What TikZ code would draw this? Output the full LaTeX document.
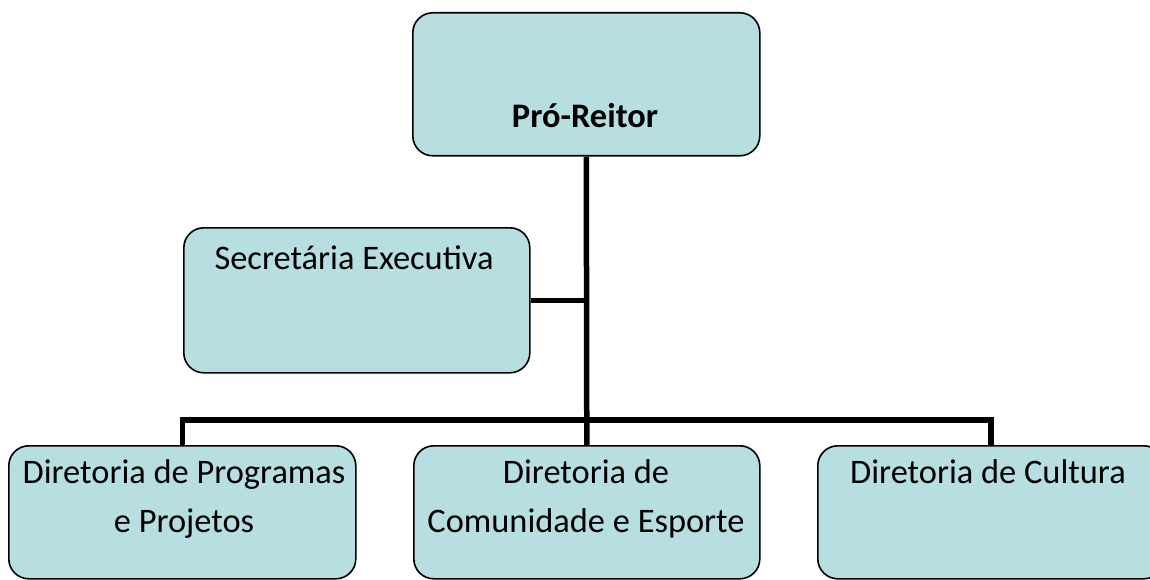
\documentclass[tikz,border=0pt]{standalone}
\usepackage{fontspec}
\setmainfont{Carlito}
\definecolor{boxfill}{RGB}{183,222,225}
\begin{document}
\begin{tikzpicture}[x=1pt,y=-1pt,
  box/.style={draw=black, line width=1.6pt, fill=boxfill, rounded corners=20pt, inner sep=0pt, anchor=north west},
  conn/.style={line width=5.5pt, line join=miter},
  lbl/.style={font=\fontsize{34.4}{49}\selectfont, align=center, inner sep=0pt, anchor=base}]
\useasboundingbox (0,0) rectangle (1150,580);
\clip (0,0) rectangle (1150,580);
\node[box, minimum width=347pt, minimum height=143pt] (pr) at (412,12) {};
\node[box, minimum width=346pt, minimum height=145pt] (se) at (183,227) {};
\node[box, minimum width=347pt, minimum height=133pt] (d1) at (8,445) {};
\node[box, minimum width=346pt, minimum height=133pt] (d2) at (413,445) {};
\node[box, minimum width=346pt, minimum height=133pt] (d3) at (817,445) {};
\coordinate (bar) at (0,420);
\draw[conn] (pr.south) -- (d2.north);
\draw[conn] (se.east) -- (se.east -| pr.south);
\draw[conn] (d1.north) -- (d1.north |- bar) -- (d3.north |- bar) -- (d3.north);
\node[lbl, font=\fontsize{34.4}{49}\selectfont\bfseries] (tpr) at (585,128) {Pró-Reitor};
\node[lbl] (tse) at (354,269) {Secretária Executiva};
\node[lbl] (td1) at (184,532) {Diretoria de Programas\\e Projetos};
\node[lbl] (td2) at (586,532) {Diretoria de\\Comunidade e Esporte};
\node[lbl] (td3) at (988,483) {Diretoria de Cultura};
\end{tikzpicture}
\end{document}
